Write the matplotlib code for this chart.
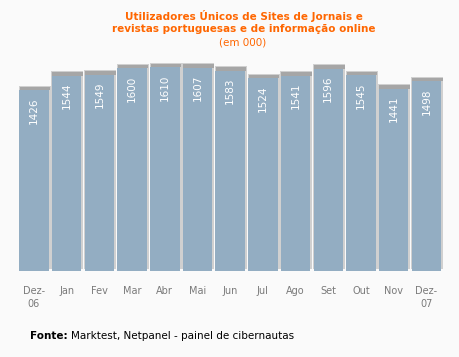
import matplotlib
matplotlib.use("Agg")
import matplotlib.pyplot as plt
from matplotlib.patches import Rectangle

months = ["Dez-\n06", "Jan", "Fev", "Mar", "Abr", "Mai", "Jun", "Jul", "Ago", "Set", "Out", "Nov", "Dez-\n07"]
values = [1426, 1544, 1549, 1600, 1610, 1607, 1583, 1524, 1541, 1596, 1545, 1441, 1498]

W, H = 460, 357
fig = plt.figure(figsize=(W / 100, H / 100), dpi=100)
fig.patch.set_facecolor("#fafafa")

ax_bottom_px = 271
ax = fig.add_axes([0, (H - ax_bottom_px) / H, 1, ax_bottom_px / H])
ax.set_facecolor("#fafafa")
upp = 7.9
pitch = 32.7
x0 = 34.0
ax.set_xlim(-x0 / pitch, (W - x0) / pitch)
ax.set_ylim(0, ax_bottom_px * upp)
px = 1.0 / pitch

bw = 29.5 * px
xs = list(range(len(values)))
for i, v in zip(xs, values):
    ax.add_patch(Rectangle((i - bw / 2 - 0.5 * px, 2 * upp), bw + 2.5 * px, v + 2.5 * upp,
                           facecolor="#d0d0d0", edgecolor="none", zorder=1))
    ax.add_patch(Rectangle((i - bw / 2 + 0.5 * px, v), bw + 1.0 * px, 3.5 * upp,
                           facecolor="#a6a6a6", edgecolor="none", zorder=2))
ax.bar(xs, values, width=bw, color="#93adc2", edgecolor="none", zorder=3)

for i, v in zip(xs, values):
    ax.text(i, v - 7 * upp, str(v), rotation=90, ha="center", va="top",
            color="white", fontsize=7.5, zorder=4)

ax.set_xticks(xs)
ax.set_xticklabels(months, fontsize=7, color="#7a7a7a", linespacing=1.3)
ax.tick_params(axis="x", length=0, pad=11)
ax.set_yticks([])
for s in ax.spines.values():
    s.set_visible(False)

fig.text(244 / W, 1 - 16 / H, "Utilizadores Únicos de Sites de Jornais e",
         ha="center", va="center", color="#ff6600", fontsize=7.5, fontweight="bold")
fig.text(244 / W, 1 - 29.5 / H, "revistas portuguesas e de informação online",
         ha="center", va="center", color="#ff6600", fontsize=7.5, fontweight="bold")
fig.text(243 / W, 1 - 42.5 / H, "(em 000)", ha="center", va="center", color="#ff6600", fontsize=7.5)

t1 = fig.text(30 / W, 1 - 336 / H, "Fonte:", ha="left", va="center", color="black",
              fontsize=7.5, fontweight="bold")
fig.canvas.draw()
bb = t1.get_window_extent()
fig.text((bb.x1 + 3) / W, 1 - 336 / H, "Marktest, Netpanel - painel de cibernautas",
         ha="left", va="center", color="black", fontsize=7.5)

fig.savefig("out.png", dpi=100, facecolor=fig.get_facecolor())
